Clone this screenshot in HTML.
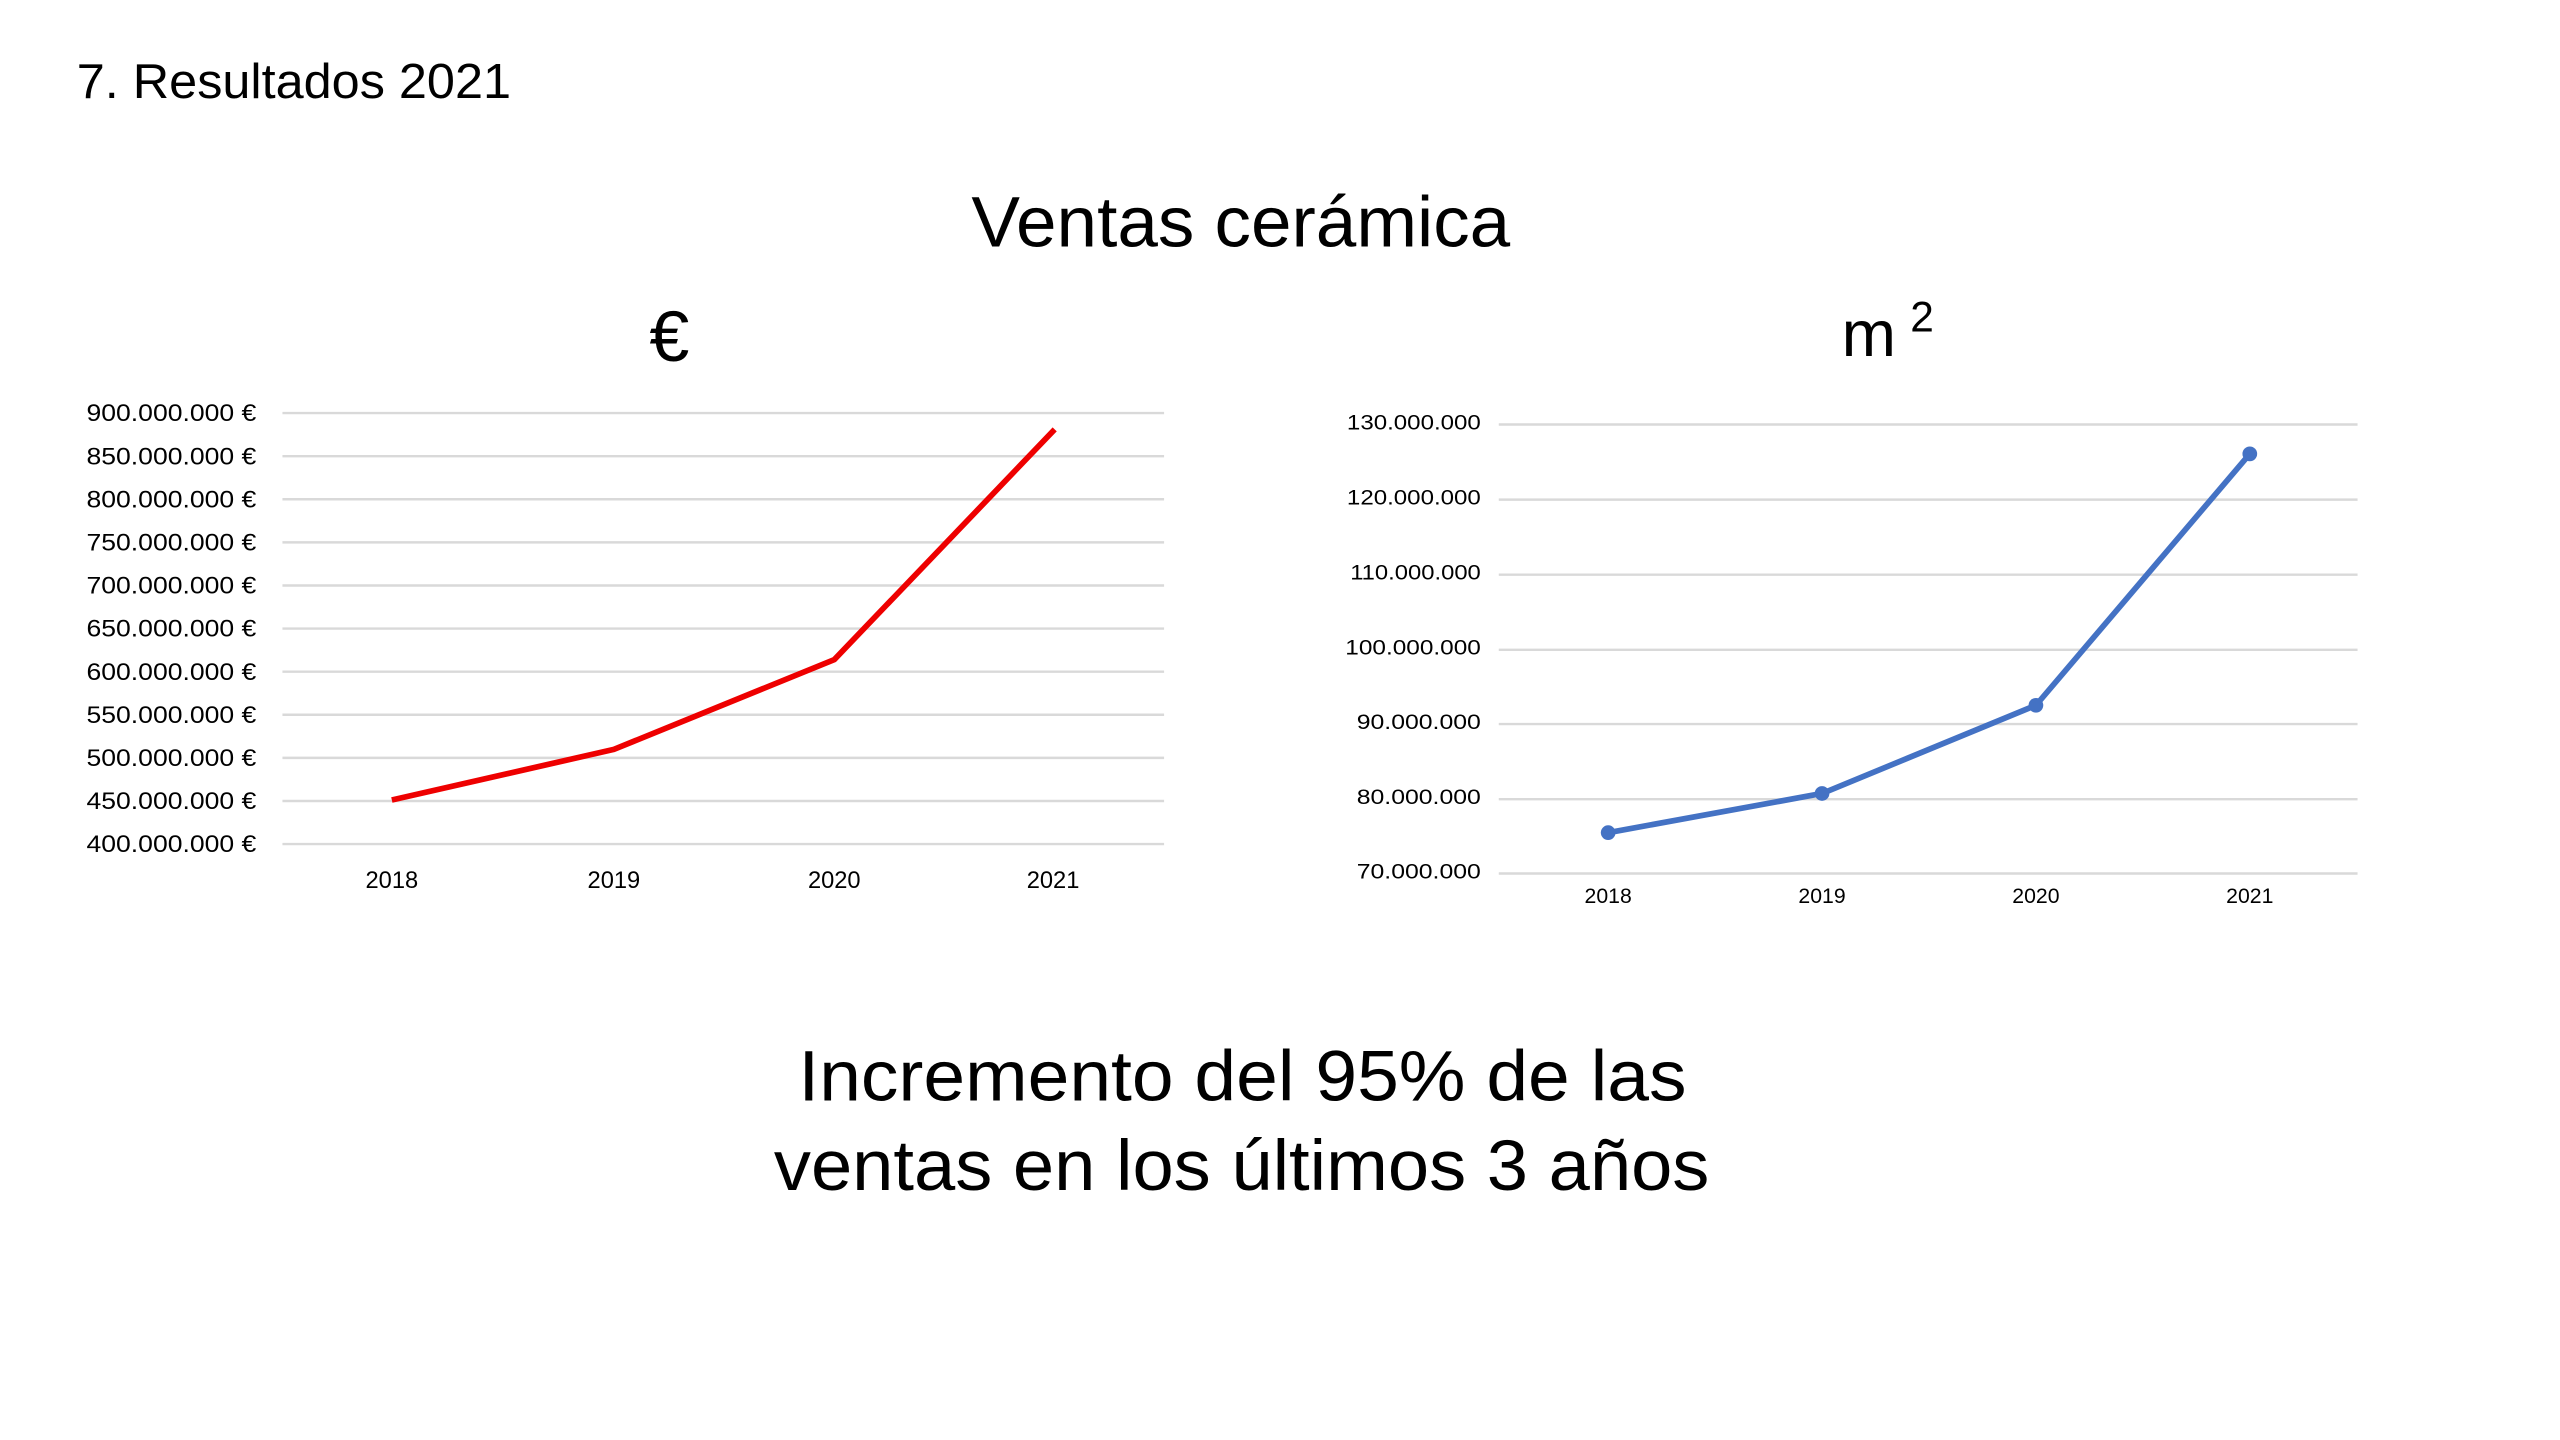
<!DOCTYPE html>
<html><head><meta charset="utf-8"><style>
html,body{margin:0;padding:0;background:#fff;}
svg{display:block;}
text{font-family:"Liberation Sans",sans-serif;fill:#000;}
</style></head><body>
<svg width="2560" height="1440" viewBox="0 0 1568 882" preserveAspectRatio="none" xmlns="http://www.w3.org/2000/svg">
<rect width="1568" height="882" fill="#fff"/>
<text x="47" y="60" font-size="30" textLength="266" lengthAdjust="spacingAndGlyphs">7. Resultados 2021</text>
<text x="595" y="151" font-size="44" textLength="330" lengthAdjust="spacingAndGlyphs">Ventas cerámica</text>
<text x="410" y="221" font-size="44" text-anchor="middle">€</text>
<text x="1128" y="218" font-size="40">m</text><text x="1170" y="203" font-size="26">2</text>
<text x="489" y="674" font-size="44" textLength="544" lengthAdjust="spacingAndGlyphs">Incremento del 95% de las</text>
<text x="474" y="729" font-size="44" textLength="573" lengthAdjust="spacingAndGlyphs">ventas en los últimos 3 años</text>

<!-- left chart -->
<g stroke="#d9d9d9" stroke-width="1.5">
<line x1="173" x2="713" y1="253" y2="253"/><line x1="173" x2="713" y1="279.4" y2="279.4"/>
<line x1="173" x2="713" y1="305.8" y2="305.8"/><line x1="173" x2="713" y1="332.2" y2="332.2"/>
<line x1="173" x2="713" y1="358.6" y2="358.6"/><line x1="173" x2="713" y1="385" y2="385"/>
<line x1="173" x2="713" y1="411.4" y2="411.4"/><line x1="173" x2="713" y1="437.8" y2="437.8"/>
<line x1="173" x2="713" y1="464.2" y2="464.2"/><line x1="173" x2="713" y1="490.6" y2="490.6"/>
<line x1="173" x2="713" y1="517" y2="517"/>
</g>
<g font-size="14.5" text-anchor="end">
<text x="157" y="258" textLength="104" lengthAdjust="spacingAndGlyphs">900.000.000 €</text>
<text x="157" y="284.4" textLength="104" lengthAdjust="spacingAndGlyphs">850.000.000 €</text>
<text x="157" y="310.8" textLength="104" lengthAdjust="spacingAndGlyphs">800.000.000 €</text>
<text x="157" y="337.2" textLength="104" lengthAdjust="spacingAndGlyphs">750.000.000 €</text>
<text x="157" y="363.6" textLength="104" lengthAdjust="spacingAndGlyphs">700.000.000 €</text>
<text x="157" y="390" textLength="104" lengthAdjust="spacingAndGlyphs">650.000.000 €</text>
<text x="157" y="416.4" textLength="104" lengthAdjust="spacingAndGlyphs">600.000.000 €</text>
<text x="157" y="442.8" textLength="104" lengthAdjust="spacingAndGlyphs">550.000.000 €</text>
<text x="157" y="469.2" textLength="104" lengthAdjust="spacingAndGlyphs">500.000.000 €</text>
<text x="157" y="495.6" textLength="104" lengthAdjust="spacingAndGlyphs">450.000.000 €</text>
<text x="157" y="522" textLength="104" lengthAdjust="spacingAndGlyphs">400.000.000 €</text>
</g>
<g font-size="14.5" text-anchor="middle">
<text x="240" y="544">2018</text><text x="376" y="544">2019</text><text x="511" y="544">2020</text><text x="645" y="544">2021</text>
</g>
<polyline points="240,490 376,459 511,404 646,263" fill="none" stroke="#ee0000" stroke-width="3.5" stroke-linejoin="round"/>

<!-- right chart -->
<g stroke="#d9d9d9" stroke-width="1.5">
<line x1="918" x2="1444" y1="260" y2="260"/><line x1="918" x2="1444" y1="306" y2="306"/>
<line x1="918" x2="1444" y1="352" y2="352"/><line x1="918" x2="1444" y1="398" y2="398"/>
<line x1="918" x2="1444" y1="443.5" y2="443.5"/><line x1="918" x2="1444" y1="489.5" y2="489.5"/>
<line x1="918" x2="1444" y1="535" y2="535"/>
</g>
<g font-size="13" text-anchor="end">
<text x="907" y="263" textLength="82" lengthAdjust="spacingAndGlyphs">130.000.000</text>
<text x="907" y="309" textLength="82" lengthAdjust="spacingAndGlyphs">120.000.000</text>
<text x="907" y="355" textLength="80" lengthAdjust="spacingAndGlyphs">110.000.000</text>
<text x="907" y="401" textLength="83" lengthAdjust="spacingAndGlyphs">100.000.000</text>
<text x="907" y="446.5" textLength="76" lengthAdjust="spacingAndGlyphs">90.000.000</text>
<text x="907" y="492.5" textLength="76" lengthAdjust="spacingAndGlyphs">80.000.000</text>
<text x="907" y="538" textLength="76" lengthAdjust="spacingAndGlyphs">70.000.000</text>
</g>
<g font-size="13" text-anchor="middle">
<text x="985" y="553">2018</text><text x="1116" y="553">2019</text><text x="1247" y="553">2020</text><text x="1378" y="553">2021</text>
</g>
<polyline points="985,510 1116,486 1247,432 1378,278" fill="none" stroke="#4472c4" stroke-width="3.5" stroke-linejoin="round"/>
<g fill="#4472c4">
<circle cx="985" cy="510" r="4.5"/><circle cx="1116" cy="486" r="4.5"/><circle cx="1247" cy="432" r="4.5"/><circle cx="1378" cy="278" r="4.5"/>
</g>
</svg>
</body></html>
